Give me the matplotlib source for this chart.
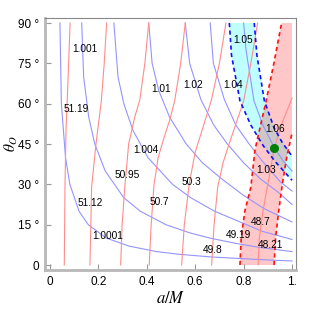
import matplotlib
matplotlib.use("Agg")
import matplotlib.pyplot as plt

# ---- data (a/M, theta_O in degrees) ----
# blue contours (value labels)
blue_levels = ["1.0001", "1.001", "1.004", "1.01", "1.02", "1.03", "1.04", "1.05", "1.06"]
blue_a = [
    [0.041, 0.047, 0.064, 0.082, 0.12, 0.158, 0.233, 0.328, 0.44, 0.53, 0.666, 0.868, 1.0],
    [0.131, 0.139, 0.160, 0.185, 0.228, 0.305, 0.373, 0.479, 0.576, 0.661, 0.77, 0.868, 1.0],
    [0.264, 0.281, 0.305, 0.343, 0.404, 0.506, 0.582, 0.680, 0.786, 0.878, 1.0],
    [0.408, 0.422, 0.449, 0.494, 0.563, 0.630, 0.710, 0.798, 0.884, 1.0],
    [0.559, 0.577, 0.624, 0.677, 0.733, 0.80, 0.87, 0.944, 1.0],
    [0.662, 0.675, 0.721, 0.768, 0.823, 0.874, 0.913, 0.951, 1.0],
    [0.741, 0.75, 0.785, 0.83, 0.88, 0.93, 0.97, 1.0],
    [0.80, 0.81, 0.843, 0.88, 0.927, 0.965, 1.0],
    [0.844, 0.855, 0.886, 0.926, 0.96, 1.0],
]
blue_t = [
    [90, 60, 40, 30, 20, 15, 10, 7, 5, 4, 3, 2, 1.5],
    [90, 70, 55, 45, 35, 25, 20, 15, 12, 10, 8, 6.5, 5],
    [90, 70, 60, 50, 40, 30, 25, 20, 16, 12.5, 9.5],
    [90, 75, 65, 55, 45, 38, 32, 26, 21, 16],
    [90, 75, 61.4, 52, 45, 38, 32, 27, 22.5],
    [90, 75, 61.4, 52, 45, 39, 35, 31, 27.5],
    [90, 78, 61, 52, 44.5, 38.5, 34.5, 31.5],
    [90, 80, 61, 52, 43.6, 38.5, 35],
    [90, 78, 61, 51, 45.5, 40.5],
]
blue_label_a = [0.238, 0.145, 0.395, 0.457, 0.59, 0.892, 0.756, 0.798, 0.93]
blue_label_t = [10.8, 80.5, 42.8, 65.3, 67.1, 35.3, 67.0, 83.7, 50.6]

# red contours
red_levels = ["51.19", "51.12", "50.95", "50.7", "50.3", "49.8", "49.19", "48.7", "48.21"]
red_a = [
    [0.059, 0.062, 0.066, 0.071, 0.077, 0.083],
    [0.165, 0.172, 0.19, 0.212, 0.224, 0.234],
    [0.292, 0.298, 0.31, 0.325, 0.35, 0.371, 0.392, 0.408],
    [0.41, 0.418, 0.43, 0.447, 0.47, 0.495, 0.515, 0.54, 0.559],
    [0.544, 0.555, 0.575, 0.60, 0.635, 0.667, 0.70, 0.727],
    [0.668, 0.678, 0.693, 0.715, 0.74, 0.77, 0.80, 0.83, 0.858],
    [0.785, 0.79, 0.805, 0.83, 0.847, 0.87, 0.893, 0.925, 0.957],
    [0.86, 0.865, 0.88, 0.90, 0.927, 0.96, 1.0],
    [0.926, 0.932, 0.945, 0.96, 0.978, 1.0],
]
red_t = [
    [0, 30, 50, 61, 75, 90],
    [0, 29, 45, 61, 75, 90],
    [0, 15, 30, 45, 55, 61.4, 75, 90],
    [0, 15, 30, 40, 47, 54, 61, 75, 90],
    [0, 15, 30, 42, 52, 61.4, 75, 90],
    [0, 15, 29, 38, 45, 53, 61, 75, 90],
    [0, 10, 20, 29, 42.8, 52, 61, 75, 90],
    [0, 10, 20, 30, 43.6, 53, 62],
    [0, 10, 20, 30, 40, 49],
]
red_label_a = [0.107, 0.165, 0.317, 0.45, 0.584, 0.672, 0.78, 0.87, 0.91]
red_label_t = [58.0, 23.0, 33.5, 23.5, 30.7, 5.6, 11.1, 16.1, 7.6]

best_a = [0.927]
best_t = [43.6]

x_ticks = [0, 0.2, 0.4, 0.6, 0.8, 1.0]
x_ticklabels = ["0", "0.2", "0.4", "0.6", "0.8", "1."]
y_ticks = [0, 15, 30, 45, 60, 75, 90]
y_ticklabels = ["0", "15 °", "30 °", "45 °", "60 °", "75 °", "90 °"]

# ---- figure ----
plt.rcParams['font.family'] = ['Liberation Sans', 'DejaVu Sans']
plt.rcParams['mathtext.fontset'] = 'stix'
fig = plt.figure(figsize=(3.16, 3.09), dpi=100)
ax = fig.add_axes([0.1424, 0.1262, 0.7943, 0.8155])
ax.set_xlim(-0.0207, 1.0165)
ax.set_ylim(-1.86, 91.86)

# bands: blue curves 6 & 8 and red curves 6 & 8 are the band edges
cyan_x = blue_a[6] + blue_a[8][::-1]
cyan_y = blue_t[6] + blue_t[8][::-1]
ax.fill(cyan_x, cyan_y, color='#00ffff', alpha=0.25, lw=0, zorder=1)

pink_x = red_a[6] + [1.0] + red_a[8][::-1]
pink_y = red_t[6] + [90] + red_t[8][::-1]
ax.fill(pink_x, pink_y, color='#ff0000', alpha=0.22, lw=0, zorder=1)

for i, (xa, yt) in enumerate(zip(blue_a, blue_t)):
    if i in (6, 8):
        ax.plot(xa, yt, color='#1010ff', lw=1.2, ls=(0, (2.5, 2.0)), zorder=3)
    else:
        ax.plot(xa, yt, color='#9494ff', lw=0.8, zorder=2)

for i, (xa, yt) in enumerate(zip(red_a, red_t)):
    if i in (6, 8):
        ax.plot(xa, yt, color='#ff1010', lw=1.2, ls=(0, (2.5, 2.0)), zorder=3)
    else:
        ax.plot(xa, yt, color='#ff8c8c', lw=0.8, zorder=2)

for lab, xa, yt in zip(blue_levels, blue_label_a, blue_label_t):
    ax.text(xa, yt, lab, fontsize=7.3, ha='center', va='center', zorder=5)
for lab, xa, yt in zip(red_levels, red_label_a, red_label_t):
    ax.text(xa, yt, lab, fontsize=7.3, ha='center', va='center', zorder=5)

ax.plot(best_a, best_t, 'o', color='#008000', ms=5.5, zorder=6)

ax.set_xticks(x_ticks)
ax.set_xticklabels(x_ticklabels)
ax.set_yticks(y_ticks)
ax.set_yticklabels(y_ticklabels)
ax.tick_params(direction='in', length=4, width=0.8, color='#999999',
               labelsize=8.5, pad=4)

for side in ('left', 'bottom'):
    ax.spines[side].set_color('#b8b8b8')
    ax.spines[side].set_linewidth(2.0)
for side in ('top', 'right'):
    ax.spines[side].set_color('#888888')
    ax.spines[side].set_linewidth(0.8)

ax.set_xlabel(r'$a/M$', fontsize=12, labelpad=2)
ax.set_ylabel(r'$\theta_O$', fontsize=11)
ax.yaxis.set_label_coords(-0.1, 0.5)

fig.savefig('out.png', dpi=100)
